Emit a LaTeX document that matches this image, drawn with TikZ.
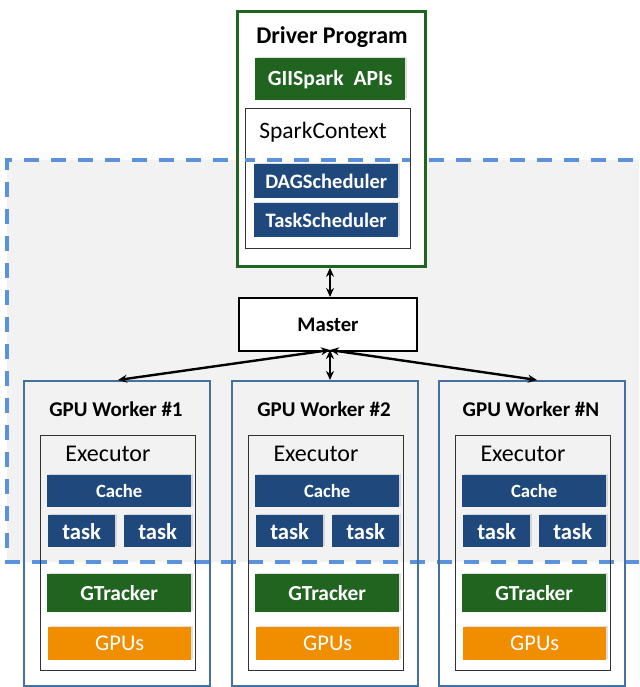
\documentclass[tikz,border=0pt]{standalone}
\usepackage{fontspec}
\setmainfont{Carlito}
\usetikzlibrary{arrows.meta,shadows}
\definecolor{boxblue}{RGB}{31,73,125}
\definecolor{boxgreen}{RGB}{32,100,32}
\definecolor{gpuorange}{RGB}{240,142,0}
\definecolor{workerblue}{RGB}{68,114,160}
\definecolor{zoneblue}{RGB}{91,146,220}
\definecolor{zonegray}{RGB}{242,242,242}
\newcommand\fs[1]{\fontsize{#1}{#1}\selectfont}
\tikzset{
  fillbox/.style={draw=none, text=white, font=\bfseries\fs{20.5},
    inner sep=0pt, anchor=north west, drop shadow={shadow xshift=1.5pt, shadow yshift=1.5pt, opacity=0.25}},
  bluebox/.style={fillbox, fill=boxblue},
  greenbox/.style={fillbox, fill=boxgreen},
  orangebox/.style={fillbox, fill=gpuorange, font=\fs{22.5}},
  frame/.style={draw=black!80, line width=0.8pt, inner sep=0pt, anchor=north west},
  worker/.style={draw=workerblue, line width=1.8pt, fill=none, inner sep=0pt, anchor=north west},
  title/.style={font=\bfseries\fs{21}},
  plain/.style={font=\fs{24}},
  zone/.style={zoneblue, line width=3.2pt, dash pattern=on 15pt off 12pt},
  link/.style={line width=2.4pt, {Stealth[length=9pt,width=8pt]}-{Stealth[length=9pt,width=8pt]}},
}
% one GPU worker with its executor; #1 = name prefix, #2 = left edge, #3 = label
\newcommand\gpuworker[3]{%
  \node[worker, minimum width=186pt, minimum height=305pt] (#1) at (#2,380) {};
  \node[title] (#1title) at (#2+93,409) {#3};
  \node[frame, minimum width=155pt, minimum height=235pt] (#1exec) at (#2+17,435) {};
  \node[plain] (#1execlabel) at (#2+85,454) {Executor};
  \node[bluebox, minimum width=144pt, minimum height=32pt] (#1cache) at (#2+24,475) {};
  \node[text=white, font=\bfseries\fs{18.7}] (#1cachelabel) at (#1cache.center) {Cache};
  \node[bluebox, minimum width=67pt, minimum height=32pt, font=\bfseries\fs{22.7}] (#1taska) at (#2+25,515) {task};
  \node[bluebox, minimum width=67pt, minimum height=32pt, font=\bfseries\fs{22.7}] (#1taskb) at (#2+101,515) {task};
  \node[greenbox, minimum width=144pt, minimum height=38pt, font=\bfseries\fs{21.4}] (#1gt) at (#2+24,574) {GTracker};
  \node[orangebox, minimum width=143pt, minimum height=33pt] (#1gpu) at (#2+25,627) {GPUs};
}
\begin{document}
\begin{tikzpicture}[x=1pt,y=-1pt]
\useasboundingbox (0,0) rectangle (639,687);
\begin{scope}
\clip (0,0) rectangle (639,687);
% cluster zone
\fill[zonegray] (7,160) rectangle (660,562);
\draw[zone] (660,160) -- (7,160) -- (7,562) -- (660,562);
\end{scope}

% driver program
\node[draw=boxgreen, line width=2.8pt, fill=white, minimum width=188pt, minimum height=255pt, inner sep=0pt, anchor=north west] (driver) at (236,10) {};
\node[font=\bfseries\fs{24}] (drivertitle) at (332,37) {Driver Program};
\node[greenbox, minimum width=150pt, minimum height=42pt, font=\bfseries\fs{21.6}] (apis) at (255,58) {GIISpark\ \ APIs};
\node[frame, fill=white, minimum width=165pt, minimum height=140pt] (sc) at (245,108) {};
\node[font=\fs{23.5}] (sclabel) at (323,132) {SparkContext};
\node[bluebox, minimum width=144pt, minimum height=34pt] (dag) at (254,164) {DAGScheduler};
\node[bluebox, minimum width=144pt, minimum height=34pt] (ts) at (254,203) {TaskScheduler};
% zone edge stays visible across the white context box
\begin{scope}
\clip (245,150) rectangle (410,170);
\draw[zone] (660,160) -- (7,160);
\end{scope}

% master
\node[draw=black, line width=2pt, fill=white, minimum width=178pt, minimum height=53pt, inner sep=0pt, anchor=north west, font=\bfseries\fs{20.7}] (master) at (238,297) {Master};

\gpuworker{wa}{23}{GPU Worker \#1}
\gpuworker{wb}{231}{GPU Worker \#2}
\gpuworker{wc}{438}{GPU Worker \#N}

% connectors
\coordinate (mb) at (330,350);
\draw[link] (driver.south -| mb) -- (master.north -| mb);
\draw[link] (mb) -- (wa.north -| 118,0);
\draw[link] (mb) -- (wb.north -| mb);
\draw[link] (mb) -- (wc.north -| 537,0);
\end{tikzpicture}
\end{document}
